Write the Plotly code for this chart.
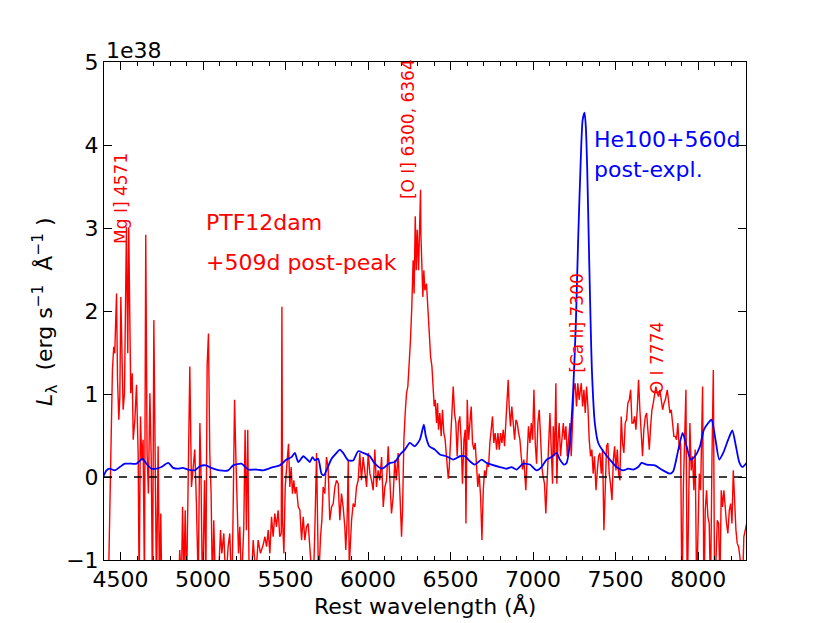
import plotly.graph_objects as go

# PTF12dam nebular spectrum (+509d), units of 1e38 erg/s/A
ptf_wave = [
    4425, 4439, 4451, 4459, 4465, 4476, 4482, 4490, 4496, 4502, 4508, 4516, 4524, 4532, 4536, 4544,
    4550, 4556, 4562, 4571, 4577, 4587, 4597, 4607, 4613, 4621, 4629, 4637, 4645, 4653, 4661, 4669,
    4678, 4686, 4694, 4702, 4710, 4718, 4728, 4736, 4744, 4752, 4775, 4800, 4825, 4845, 4859, 4869,
    4876, 4884, 4892, 4900, 4910, 4920, 4930, 4940, 4950, 4960, 4971, 4981, 4987, 4997, 5009, 5017,
    5025, 5033, 5041, 5049, 5057, 5065, 5078, 5092, 5106, 5114, 5126, 5138, 5152, 5162, 5175, 5183,
    5191, 5199, 5207, 5215, 5223, 5233, 5247, 5255, 5263, 5271, 5280, 5294, 5304, 5320, 5334, 5348,
    5364, 5375, 5385, 5395, 5405, 5415, 5425, 5435, 5445, 5455, 5465, 5474, 5478, 5482, 5490, 5498,
    5510, 5518, 5526, 5534, 5542, 5550, 5558, 5566, 5577, 5587, 5597, 5607, 5617, 5627, 5637, 5647,
    5657, 5667, 5678, 5688, 5694, 5700, 5712, 5720, 5728, 5738, 5748, 5758, 5768, 5779, 5789, 5799,
    5809, 5819, 5829, 5839, 5849, 5859, 5865, 5873, 5880, 5886, 5894, 5900, 5910, 5920, 5930, 5940,
    5950, 5960, 5970, 5981, 5991, 6001, 6011, 6021, 6031, 6041, 6051, 6061, 6071, 6082, 6092, 6102,
    6112, 6122, 6132, 6142, 6152, 6162, 6172, 6182, 6193, 6203, 6209, 6217, 6225, 6233, 6241, 6249,
    6257, 6265, 6273, 6279, 6286, 6292, 6298, 6306, 6312, 6318, 6320, 6326, 6332, 6338, 6344, 6354,
    6362, 6370, 6379, 6387, 6395, 6401, 6407, 6415, 6421, 6427, 6435, 6443, 6451, 6459, 6467, 6475,
    6486, 6492, 6500, 6508, 6516, 6524, 6532, 6540, 6548, 6556, 6564, 6572, 6581, 6589, 6593, 6601,
    6609, 6617, 6625, 6633, 6641, 6649, 6657, 6665, 6673, 6682, 6690, 6698, 6706, 6714, 6722, 6730,
    6738, 6746, 6754, 6762, 6770, 6779, 6787, 6795, 6803, 6811, 6819, 6827, 6835, 6843, 6849, 6855,
    6863, 6871, 6880, 6888, 6896, 6904, 6912, 6920, 6928, 6936, 6944, 6952, 6956, 6964, 6972, 6981,
    6989, 6997, 7005, 7013, 7021, 7029, 7037, 7045, 7053, 7061, 7069, 7077, 7086, 7094, 7102, 7110,
    7118, 7122, 7130, 7138, 7144, 7150, 7158, 7166, 7174, 7183, 7191, 7199, 7207, 7215, 7223, 7231,
    7239, 7247, 7255, 7263, 7271, 7279, 7292, 7300, 7308, 7316, 7324, 7332, 7340, 7348, 7356, 7364,
    7372, 7381, 7389, 7397, 7405, 7413, 7421, 7429, 7437, 7445, 7453, 7461, 7469, 7478, 7486, 7494,
    7502, 7510, 7518, 7526, 7534, 7542, 7550, 7558, 7566, 7574, 7583, 7591, 7599, 7607, 7615, 7623,
    7631, 7639, 7647, 7655, 7663, 7671, 7680, 7688, 7696, 7704, 7712, 7720, 7728, 7736, 7744, 7752,
    7760, 7768, 7776, 7785, 7793, 7801, 7813, 7821, 7829, 7837, 7845, 7853, 7861, 7869, 7877, 7886,
    7894, 7902, 7910, 7918, 7926, 7934, 7942, 7950, 7958, 7966, 7974, 7982, 7991, 7999, 8007, 8015,
    8027, 8035, 8043, 8051, 8059, 8067, 8075, 8084, 8092, 8100, 8108, 8116, 8124, 8132, 8140, 8148,
    8156, 8164, 8172, 8180, 8189, 8197, 8205, 8213, 8221, 8229, 8237, 8245, 8253, 8261, 8269, 8277,
    8285, 8294,
]
ptf_lum = [
    -1.5, 0.00, 1.29, 1.57, 1.49, 2.21, 1.17, 0.69, 0.97, 2.17, 1.49, 0.81, 1.01, 2.21, 3.01, 1.49,
    3.01, 1.97, 1.01, 1.25, 0.45, 0.69, 1.11, 0.28, -1.4, 0.73, 0.20, 0.45, -1.3, 2.92, 0.28, -0.20,
    1.01, 0.24, -1.5, 1.89, -0.12, -1.4, 0.37, -1.3, -0.44, -1.6, -1.8, -2.0, -1.5, -1.7, -0.88, -1.3,
    -0.36, -1.2, -0.40, -1.4, -0.04, 1.33, -0.12, 0.08, 0.33, -0.32, -1.3, 0.65, 0.12, -1.5, -0.04, -1.3,
    1.35, 1.73, 0.28, -0.20, -1.4, -0.52, -1.5, -1.3, -0.64, -0.92, -0.68, -1.3, -0.84, -0.68, -1.4, -0.32,
    0.93, 0.24, -0.28, -0.92, -0.60, -1.3, -0.60, 0.57, -0.64, 0.57, -1.3, -1.2, -0.76, -1.2, -0.76, -0.92,
    -0.82, -0.72, -0.84, -0.64, -0.92, -0.48, -0.72, -0.44, -0.60, -0.40, -0.72, -0.68, 2.05, -0.52, -0.92, -0.12,
    0.20, 0.40, -0.12, 0.12, -0.20, -0.04, -0.20, -0.12, -0.36, -0.40, -0.76, -0.48, -0.76, -0.60, -0.56, -0.92,
    -1.2, -1.4, -0.60, 0.29, -0.52, -1.3, -0.72, -0.52, -0.12, -0.20, 0.24, 0.12, -0.52, -0.36, -0.32, -0.12,
    -0.04, -0.08, -0.52, -0.20, -0.36, -0.60, -0.88, -0.52, 0.20, -1.1, -0.76, -0.52, -0.32, -0.36, -0.12, -0.04,
    0.29, -0.04, 0.24, 0.04, -0.12, 0.29, 0.04, -0.04, -0.16, 0.33, -0.12, 0.08, -0.04, 0.24, -0.36, -0.12,
    -0.04, 0.37, -0.08, -0.44, -0.24, 0.20, -0.04, 0.29, -0.20, -0.72, -0.40, 0.45, 0.77, 1.01, 1.09, 1.33,
    1.65, 2.05, 2.61, 2.21, 3.14, 2.49, 2.98, 2.49, 2.86, 3.46, 2.94, 2.65, 2.17, 2.49, 2.25, 2.33,
    2.01, 1.85, 1.45, 1.33, 0.97, 0.85, 0.93, 0.65, 0.89, 0.57, 0.77, 0.49, 0.81, 0.53, 0.45, 0.20,
    -0.02, 0.12, 0.45, 0.81, 1.09, 0.77, 0.65, 0.25, 0.65, 0.73, 0.45, -0.08, 0.45, 0.57, -0.56, 0.93,
    0.45, 0.65, 0.85, 0.41, 0.33, 0.41, 0.16, -0.12, 0.04, -0.24, -0.76, -0.16, 0.08, 0.00, 0.16, 0.12,
    0.41, 0.57, 0.73, 0.41, 0.53, 0.33, 0.53, 0.33, 0.53, 0.41, 0.57, 0.37, 0.65, 0.81, 1.17, 0.85,
    0.61, 0.85, 0.65, 0.45, 0.69, 0.65, 0.53, 0.45, 0.25, 0.09, 0.21, 0.00, -0.16, 0.25, 0.61, 0.41,
    0.65, 0.45, 1.05, 0.41, 0.16, 0.65, 0.81, 0.49, 0.12, 0.00, -0.08, -0.44, 0.04, 0.25, 0.77, 0.33,
    -0.08, 0.61, 0.25, 1.13, -0.08, 0.41, 0.65, 0.25, 0.45, 0.65, 0.45, 0.61, 0.25, 0.41, 0.65, 0.25,
    0.65, 1.05, 1.13, 0.85, 1.13, 0.93, 1.13, 0.85, 1.05, 0.77, 1.09, 0.85, 0.45, 0.25, 0.33, 0.04,
    0.25, -0.16, 0.08, 0.25, 0.29, 0.04, 0.33, -0.64, -0.16, 0.37, 0.41, 0.04, -0.08, -0.28, 0.20, 0.37,
    0.08, 0.33, 0.04, -0.04, 0.73, 0.41, 0.29, 0.65, 0.69, 0.89, 0.93, 1.05, 0.65, 0.65, 0.73, 0.57,
    0.81, 1.17, 0.81, 0.53, 0.25, 0.57, 0.73, 0.77, 0.53, 0.33, 0.61, 0.81, 0.89, 0.97, 1.09, 1.01,
    0.97, 1.05, 0.93, 0.81, 0.89, 0.93, 1.05, 0.89, 0.77, 0.81, 0.65, 0.49, 0.49, 0.45, 0.65, 0.33,
    0.41, -1.6, -0.16, 0.37, 1.05, -1.5, 0.00, 0.65, 0.08, 0.25, -0.16, 0.33, -1.4, -0.56, 0.04, -0.16,
    1.09, -1.5, -0.40, -0.16, -0.48, -0.56, -1.4, 0.25, 1.29, -1.5, -0.88, -0.52, -0.56, -1.3, -0.16, -0.36,
    -0.16, -0.40, -0.56, -0.68, -0.40, -0.32, -0.56, 0.08, -0.36, -0.64, -0.80, -0.84, -0.96, -1.2, -1.3, -0.72,
    -0.64, -0.56,
]

# He100 model at +560d post-explosion
model_wave = [
    4395, 4415, 4435, 4465, 4496, 4526, 4566, 4597, 4633, 4657, 4688, 4718, 4748, 4789, 4819, 4849,
    4876, 4910, 4950, 4981, 5017, 5051, 5102, 5152, 5183, 5233, 5273, 5324, 5364, 5425, 5465, 5506,
    5536, 5556, 5577, 5607, 5627, 5647, 5663, 5678, 5698, 5718, 5732, 5748, 5779, 5809, 5829, 5849,
    5880, 5910, 5940, 5970, 6011, 6041, 6082, 6102, 6132, 6162, 6193, 6223, 6253, 6283, 6314, 6338,
    6350, 6371, 6405, 6435, 6475, 6516, 6556, 6587, 6617, 6647, 6688, 6718, 6748, 6799, 6839, 6869,
    6900, 6940, 6981, 7021, 7051, 7082, 7112, 7142, 7162, 7187, 7203, 7223, 7243, 7259, 7273, 7288,
    7300, 7312, 7320, 7328, 7340, 7348, 7356, 7374, 7395, 7425, 7465, 7506, 7546, 7576, 7607, 7637,
    7657, 7688, 7738, 7778, 7829, 7849, 7880, 7906, 7930, 7954, 7981, 8011, 8035, 8061, 8081, 8102,
    8128, 8152, 8182, 8207, 8229, 8249, 8269, 8294,
]
model_lum = [
    0.00, 0.08, 0.10, 0.08, 0.12, 0.16, 0.16, 0.16, 0.22, 0.16, 0.10, 0.10, 0.12, 0.17, 0.11, 0.10,
    0.11, 0.09, 0.08, 0.13, 0.14, 0.11, 0.08, 0.08, 0.14, 0.16, 0.09, 0.09, 0.08, 0.12, 0.14, 0.21,
    0.24, 0.29, 0.18, 0.25, 0.22, 0.18, 0.24, 0.20, 0.22, 0.04, 0.02, 0.08, 0.22, 0.29, 0.33, 0.29,
    0.20, 0.20, 0.31, 0.29, 0.25, 0.16, 0.10, 0.12, 0.17, 0.18, 0.27, 0.33, 0.41, 0.37, 0.45, 0.63,
    0.49, 0.37, 0.33, 0.27, 0.25, 0.21, 0.25, 0.25, 0.19, 0.15, 0.21, 0.17, 0.15, 0.12, 0.10, 0.12,
    0.09, 0.16, 0.15, 0.08, 0.12, 0.21, 0.24, 0.29, 0.21, 0.15, 0.17, 0.41, 1.05, 1.85, 2.86, 3.78,
    4.30, 4.39, 4.20, 3.70, 2.60, 1.90, 1.30, 0.65, 0.41, 0.31, 0.21, 0.12, 0.08, 0.10, 0.09, 0.12,
    0.17, 0.15, 0.14, 0.09, 0.04, 0.07, 0.33, 0.53, 0.37, 0.21, 0.25, 0.37, 0.57, 0.65, 0.69, 0.49,
    0.21, 0.29, 0.45, 0.56, 0.37, 0.18, 0.12, 0.17,
]

ZERO_LEVEL = 0.0
X_RANGE = [4400, 8290]
Y_RANGE = [-1, 5]
X_TICKS = [4500, 5000, 5500, 6000, 6500, 7000, 7500, 8000]
Y_TICKS = [-1, 0, 1, 2, 3, 4, 5]

# line identifications: (label, wavelength, luminosity) for label centres
line_labels = [
    ("Mg I] 4571", 4502, 3.36),
    ("[O I] 6300, 6364", 6241, 4.19),
    ("[Ca II] 7300", 7265, 1.855),
    ("O I 7774", 7750, 1.43),
]

FONT = "DejaVu Sans"

fig = go.Figure()

fig.add_trace(go.Scatter(
    x=ptf_wave, y=ptf_lum, mode="lines",
    line=dict(color="#ff0000", width=1.4),
    showlegend=False,
))
fig.add_trace(go.Scatter(
    x=model_wave, y=model_lum, mode="lines",
    line=dict(color="#0000ff", width=1.8, shape="spline", smoothing=0.6),
    showlegend=False,
))
fig.add_hline(y=ZERO_LEVEL, line=dict(color="black", width=1.5, dash="8px,7px"))

for text, wl, lum in line_labels:
    fig.add_annotation(
        x=wl, y=lum, text=text, textangle=-90, showarrow=False,
        xanchor="center", yanchor="middle",
        font=dict(family=FONT, size=17, color="#ff0000"),
    )

fig.add_annotation(x=5005, y=3.07, text="PTF12dam", showarrow=False,
                   xanchor="left", yanchor="middle",
                   font=dict(family=FONT, size=22, color="#ff0000"))
fig.add_annotation(x=5005, y=2.58, text="+509d post-peak", showarrow=False,
                   xanchor="left", yanchor="middle",
                   font=dict(family=FONT, size=22, color="#ff0000"))
fig.add_annotation(x=7357, y=4.07, text="He100+560d", showarrow=False,
                   xanchor="left", yanchor="middle",
                   font=dict(family=FONT, size=22, color="#0000ff"))
fig.add_annotation(x=7357, y=3.70, text="post-expl.", showarrow=False,
                   xanchor="left", yanchor="middle",
                   font=dict(family=FONT, size=22, color="#0000ff"))

# offset text and axis labels
fig.add_annotation(xref="paper", yref="paper", x=0.0, y=1.024, text="1e38",
                   showarrow=False, xanchor="left", yanchor="middle",
                   font=dict(family=FONT, size=22, color="black"))
fig.add_annotation(xref="paper", yref="paper", x=-0.092, y=0.5,
                   text="<i>L</i><sub>λ</sub>  (erg s<sup>−1</sup>  Å<sup>−1</sup> )",
                   textangle=-90, showarrow=False, xanchor="center", yanchor="middle",
                   font=dict(family=FONT, size=22, color="black"))
fig.add_annotation(xref="paper", yref="paper", x=0.5, y=-0.092,
                   text="Rest wavelength (Å)", showarrow=False,
                   xanchor="center", yanchor="middle",
                   font=dict(family=FONT, size=22, color="black"))

axis_common = dict(
    showgrid=False, zeroline=False, showline=True, linecolor="black", linewidth=1,
    mirror="allticks", ticks="inside", ticklen=8, tickwidth=1, tickcolor="black",
    tickfont=dict(family=FONT, size=22, color="black"),
)
fig.update_xaxes(range=X_RANGE, tickvals=X_TICKS,
                 minor=dict(dtick=100, ticks="inside", ticklen=4, tickcolor="black"),
                 **axis_common)
fig.update_yaxes(range=Y_RANGE, tickvals=Y_TICKS, **axis_common)

# the page adds an 8px body margin, so the margins are offset to compensate
fig.update_layout(
    width=830, height=623,
    margin=dict(l=96, r=92, t=54, b=71),
    paper_bgcolor="white", plot_bgcolor="white",
    font=dict(family=FONT),
)

fig.write_html("out.html")
